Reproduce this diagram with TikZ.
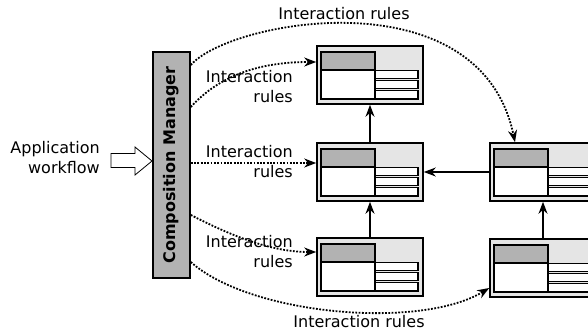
\documentclass[tikz,border=0pt]{standalone}
\usepackage{fontspec}
\setmainfont{DejaVu Sans}
\usetikzlibrary{arrows.meta}
\tikzset{
 win/.style={draw, line width=1.6pt, fill=black!10, minimum width=106pt, minimum height=58pt, inner sep=0pt},
 lbl/.style={font=\fontsize{16}{20}\selectfont, align=right, inner sep=0pt},
 rulearrow/.style={line width=1.8pt, dash pattern=on 1.8pt off 1.5pt, -{Stealth[length=12pt,width=9pt]}},
 flow/.style={line width=1.4pt, -{Stealth[length=12pt,width=9pt]}},
}
\newcommand\wininner[1]{%
 \begin{scope}[shift={(#1.center)}, line width=1.6pt]
  \draw[fill=white] (-49,-23) rectangle (5,24);
  \draw[fill=black!30] (-49,-23) rectangle (5,-5);
  \draw[line width=1.2pt, fill=white] (5,-4.5) rectangle (48,3.5);
  \draw[line width=1.2pt, fill=white] (5,5.5) rectangle (48,13.5);
  \draw[line width=1.2pt, fill=white] (5,15.5) rectangle (48,24);
 \end{scope}}
\begin{document}
\begin{tikzpicture}[x=1pt,y=-1pt]
\useasboundingbox (0,0) rectangle (588,332);
\clip (0,0) rectangle (588,332);
% composition manager
\node[draw, line width=1.6pt, fill=black!30, minimum width=37pt, minimum height=226pt, inner sep=0pt] (cm) at (171.5,165) {};
\node[rotate=90, inner sep=0pt, font=\fontsize{16}{20}\selectfont\bfseries] (cmt) at (cm.center) {Composition Manager};
% windows
\node[win] (W1) at (370,75) {};
\node[win] (W2) at (370,172) {};
\node[win] (W3) at (370,267) {};
\node[win] (W4) at (543,172) {};
\node[win] (W5) at (543,268) {};
\wininner{W1}\wininner{W2}\wininner{W3}\wininner{W4}\wininner{W5}
% application workflow
\node[lbl, anchor=east] (app) at (100,157.5) {Application\\workflow};
\draw[line width=0.8pt, fill=white] (111,153.5) -- (135,153.5) -- (135,147) -- (152,161) -- (135,175) -- (135,167.5) -- (111,167.5) -- cycle;
% labels
\node[lbl] (l1) at (344,14) {Interaction rules};
\node[lbl, anchor=east] (l2) at (293,87) {Interaction\\rules};
\node[lbl, anchor=east] (l3) at (293,162) {Interaction\\rules};
\node[lbl, anchor=east] (l4) at (293,252) {Interaction\\rules};
\node[lbl] (l5) at (359,322) {Interaction rules};
% interaction rules connectors
\draw[rulearrow] ([yshift=100pt]cm.east) .. controls (230,20) and (480,-25) .. ([xshift=-28pt]W4.north);
\draw[rulearrow] ([yshift=58pt]cm.east) .. controls (220,75) and (260,62) .. ([yshift=13pt]W1.west);
\draw[rulearrow] ([yshift=2pt]cm.east) -- ([yshift=9pt]W2.west);
\draw[rulearrow] ([yshift=-50pt]cm.east) .. controls (230,235) and (270,252) .. ([yshift=15pt]W3.west);
\draw[rulearrow] ([yshift=-97pt]cm.east) .. controls (250,315) and (420,330) .. ([yshift=-20pt]W5.west);
% flow arrows
\draw[flow] (W2.north) -- (W1.south);
\draw[flow] (W3.north) -- (W2.south);
\draw[flow] (W4.west) -- (W2.east);
\draw[flow] (W5.north) -- (W4.south);
\end{tikzpicture}
\end{document}
